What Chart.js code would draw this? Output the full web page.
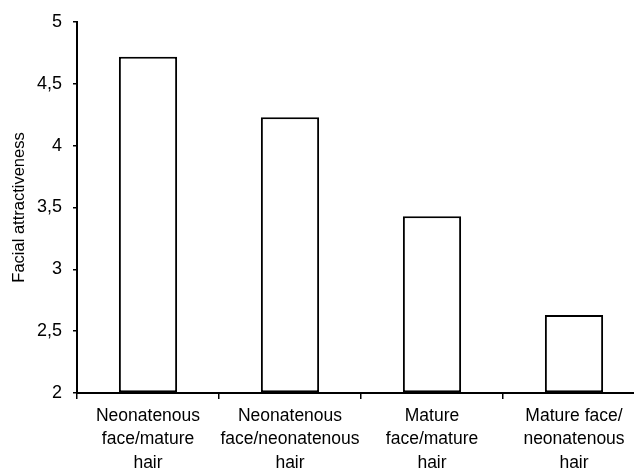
<!DOCTYPE html>
<html>
<head>
<meta charset="utf-8">
<script src="https://cdn.jsdelivr.net/npm/chart.js@4/dist/chart.umd.min.js"></script>
<style>
    html, body { margin: 0; padding: 0; background: #fff; overflow: hidden; }
    #wrap { width: 660px; height: 468px; }
</style>
</head>
<body>
<div id="wrap"><canvas id="bars" width="660" height="468"></canvas></div>
<script>
var categories = [
    ["Neonatenous", "face/mature", "hair"],
    ["Neonatenous", "face/neonatenous", "hair"],
    ["Mature", "face/mature", "hair"],
    ["Mature face/", "neonatenous", "hair"]
];
var attractiveness = [4.72, 4.23, 3.43, 2.63];
var yTicks = [2, 2.5, 3, 3.5, 4, 4.5, 5];

document.addEventListener("DOMContentLoaded", function () {
    var ctx = document.getElementById("bars").getContext("2d");

    var data = {
        labels: categories,
        datasets: [
            {
                label: "",
                backgroundColor: "#ffffff",
                borderColor: "#000000",
                borderWidth: 2,
                borderSkipped: false,
                base: 2,
                barPercentage: 0.41,
                categoryPercentage: 1,
                data: attractiveness
            }
        ]
    };

    var options = {
        responsive: false,
        animation: false,
        layout: {
            padding: { top: 22, right: 15, left: 0, bottom: 0 }
        },
        scales: {
            x: {
                border: { color: "#000", width: 2 },
                grid: {
                    display: true,
                    drawOnChartArea: false,
                    drawTicks: true,
                    tickLength: 6,
                    color: "#000",
                    lineWidth: 1.5
                },
                ticks: {
                    color: "#000",
                    maxRotation: 0,
                    autoSkip: false,
                    padding: 6,
                    font: { family: "Liberation Sans", size: 17.5, lineHeight: 1.32 }
                },
                afterFit: function (scale) { scale.height = 75; }
            },
            y: {
                min: 2,
                max: 5,
                afterBuildTicks: function (scale) {
                    scale.ticks = yTicks.map(function (v) { return { value: v }; });
                },
                border: { color: "#000", width: 2 },
                grid: {
                    display: true,
                    drawOnChartArea: false,
                    drawTicks: true,
                    tickLength: 4,
                    color: "#000",
                    lineWidth: 1.5
                },
                ticks: {
                    color: "#000",
                    padding: 11,
                    font: { family: "Liberation Sans", size: 18 },
                    callback: function (v) { return String(v).replace(".", ","); }
                },
                title: {
                    display: true,
                    text: "Facial attractiveness",
                    color: "#000",
                    padding: { top: 10, bottom: 0 },
                    font: { family: "Liberation Sans", size: 16.5 }
                },
                afterFit: function (scale) { scale.width = 77; }
            }
        },
        plugins: {
            legend: { display: false },
            tooltip: { enabled: false }
        }
    };

    new Chart(ctx, {
        type: "bar",
        data: data,
        options: options
    });
});
</script>
</body>
</html>
